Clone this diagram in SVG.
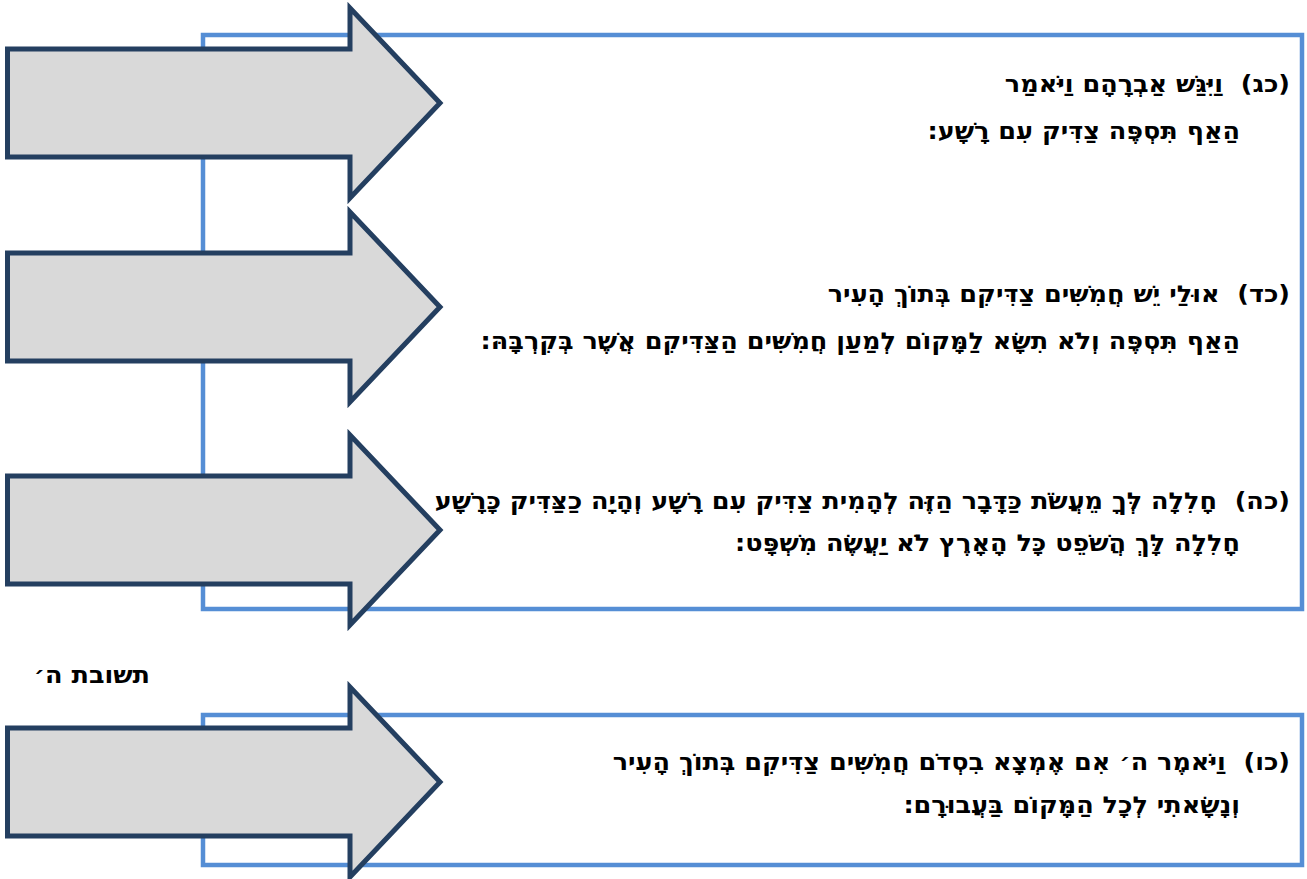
<svg xmlns="http://www.w3.org/2000/svg" xmlns:xlink="http://www.w3.org/1999/xlink" width="1307" height="879" viewBox="0 0 1307 879">
<style>
.box{fill:none;stroke:#558ed5;stroke-width:4.5}
.arrow{fill:#d9d9d9;stroke:#243f60;stroke-width:5;stroke-linejoin:miter}
.t{font-family:"DejaVu Sans","Liberation Sans",sans-serif;font-weight:bold;font-size:23px;fill:#000;direction:rtl;unicode-bidi:embed;white-space:pre}
</style>
<defs>
<path id="arr" d="M7.5,-54 H350 V-95 L440,0 L350,95 V54 H7.5 Z"/>
</defs>
<g id="frames">
<rect id="frame-1" class="box" x="203" y="35" width="1099" height="574"/>
<rect id="frame-2" class="box" x="203" y="715" width="1099" height="150"/>
</g>
<g id="connectors">
<use id="arrow-1" class="arrow" xlink:href="#arr" transform="translate(0,103)"/>
<use id="arrow-2" class="arrow" xlink:href="#arr" transform="translate(0,307)"/>
<use id="arrow-3" class="arrow" xlink:href="#arr" transform="translate(0,530)"/>
<use id="arrow-4" class="arrow" xlink:href="#arr" transform="translate(0,782)"/>
</g>
<g id="node-23">
<text class="t" transform="translate(1290,92) scale(1.11,1)">(כג)  וַיִּגַּשׁ אַבְרָהָם וַיֹּאמַר</text>
<text class="t" transform="translate(1240,139) scale(1.11,1)">הַאַף תִּסְפֶּה צַדִּיק עִם רָשָׁע:</text>
</g>
<g id="node-24">
<text class="t" transform="translate(1290,302) scale(1.11,1)">(כד)  אוּלַי יֵשׁ חֲמִשִּׁים צַדִּיקִם בְּתוֹךְ הָעִיר</text>
<text class="t" transform="translate(1240,349) scale(1.11,1)">הַאַף תִּסְפֶּה וְלֹא תִשָּׂא לַמָּקוֹם לְמַעַן חֲמִשִּׁים הַצַּדִּיקִם אֲשֶׁר בְּקִרְבָּהּ:</text>
</g>
<g id="node-25">
<text class="t" transform="translate(1290,509) scale(1.11,1)">(כה)  חָלִלָה לְּךָ מֵעֲשֹׂת כַּדָּבָר הַזֶּה לְהָמִית צַדִּיק עִם רָשָׁע וְהָיָה כַצַּדִּיק כָּרָשָׁע</text>
<text class="t" transform="translate(1240,551) scale(1.11,1)">חָלִלָה לָּךְ הֲשֹׁפֵט כָּל הָאָרֶץ לֹא יַעֲשֶׂה מִשְׁפָּט:</text>
</g>
<g id="label-answer">
<text class="t" transform="translate(150,683) scale(1.11,1)">תשובת ה׳</text>
</g>
<g id="node-26">
<text class="t" transform="translate(1290,770) scale(1.11,1)">(כו)  וַיֹּאמֶר ה׳ אִם אֶמְצָא בִסְדֹם חֲמִשִּׁים צַדִּיקִם בְּתוֹךְ הָעִיר</text>
<text class="t" transform="translate(1240,813) scale(1.11,1)">וְנָשָׂאתִי לְכָל הַמָּקוֹם בַּעֲבוּרָם:</text>
</g>
</svg>
